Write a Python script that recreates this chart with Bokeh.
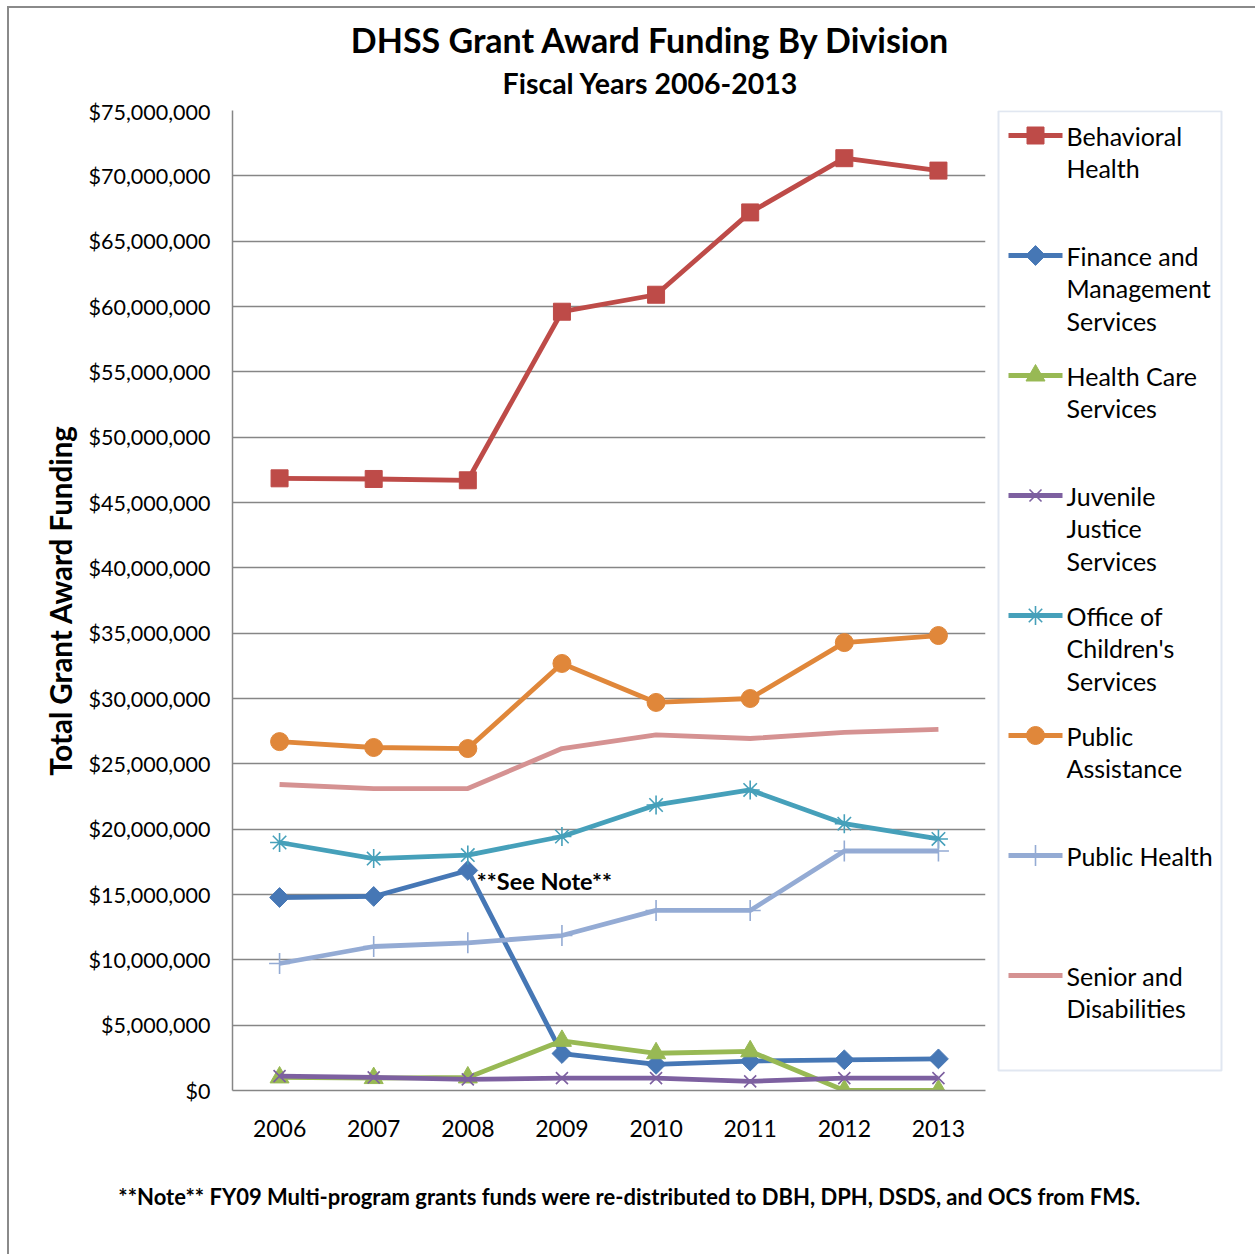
from bokeh.plotting import figure
from bokeh.layouts import column, row
from bokeh.models import (Range1d, FixedTicker, SingleIntervalTicker, NumeralTickFormatter,
                          Label, BoxAnnotation)
from bokeh.core.properties import value
from bokeh.embed import file_html
from bokeh.resources import INLINE
import math

# ---- data -------------------------------------------------------------
years = [2006, 2007, 2008, 2009, 2010, 2011, 2012, 2013]

behavioral_health = [46.85e6, 46.80e6, 46.70e6, 59.60e6, 60.90e6, 67.20e6, 71.35e6, 70.40e6]
finance_mgmt = [14.77e6, 14.85e6, 16.84e6, 2.83e6, 2.00e6, 2.25e6, 2.35e6, 2.42e6]
health_care = [1.00e6, 0.95e6, 1.00e6, 3.80e6, 2.85e6, 3.00e6, 0.0, 0.0]
juvenile_justice = [1.10e6, 1.00e6, 0.85e6, 0.95e6, 0.95e6, 0.70e6, 0.95e6, 0.95e6]
childrens_services = [18.98e6, 17.75e6, 18.02e6, 19.44e6, 21.85e6, 23.00e6, 20.42e6, 19.25e6]
public_assistance = [26.70e6, 26.25e6, 26.17e6, 32.68e6, 29.70e6, 30.00e6, 34.28e6, 34.82e6]
public_health = [9.72e6, 11.02e6, 11.30e6, 11.86e6, 13.78e6, 13.78e6, 18.33e6, 18.33e6]
senior_disabilities = [23.42e6, 23.11e6, 23.11e6, 26.17e6, 27.22e6, 26.94e6, 27.40e6, 27.63e6]

title_text = "DHSS Grant Award Funding By Division"
subtitle_text = "Fiscal Years 2006-2013"
note_text = "**Note** FY09 Multi-program grants funds were re-distributed to DBH, DPH, DSDS, and OCS from FMS."
callout_text = "**See Note**"
y_axis_title = "Total Grant Award Funding"

FONT = "Lato"
GRID = "#868686"

# (values, colour, marker, marker size, legend text lines)
series = [
    (behavioral_health, "#BE4B48", "square", 17, ["Behavioral", "Health"]),
    (finance_mgmt, "#4677B5", "diamond", 14, ["Finance and", "Management", "Services"]),
    (health_care, "#98B954", "triangle", 19, ["Health Care", "Services"]),
    (juvenile_justice, "#7D60A0", "x", 17, ["Juvenile", "Justice", "Services"]),
    (childrens_services, "#46A0BA", "asterisk", 19, ["Office of", "Children's", "Services"]),
    (public_assistance, "#E0873A", "circle", 18, ["Public", "Assistance"]),
    (public_health, "#94ABD4", "cross", 21, ["Public Health"]),
    (senior_disabilities, "#D59292", None, 0, ["Senior and", "Disabilities"]),
]


def marker_kw(marker, size, color):
    kw = dict(marker=marker, size=size, line_color=color, fill_color=color)
    if marker == "diamond":
        kw.update(marker="square", angle=math.pi / 4)
    if marker in ("x", "asterisk", "cross"):
        kw.update(line_width=1.6)
    return kw


# ---- page geometry (pixels, top-left origin) ---------------------------
PAGE_W, PAGE_H = 1255, 1254
OX, OY = 9, 8                  # inside the outer chart border
MAIN_TOP, MAIN_BOTTOM = 98, 1145
SPLIT_X = 990                  # main plot | legend
FL, FR, FT, FB = 232, 985, 110, 1090
LINE_W = 4.8


def panel(x0, x1, y0, y1, **kw):
    """A bare figure whose data coordinates equal page pixels."""
    f = figure(width=x1 - x0, height=y1 - y0, output_backend="svg", toolbar_location=None,
               x_range=Range1d(x0, x1), y_range=Range1d(y1, y0),
               background_fill_color="white", border_fill_color="white", **kw)
    f.axis.visible = False
    f.grid.visible = False
    f.outline_line_color = None
    return f


# ---- title band -------------------------------------------------------
top = panel(OX, PAGE_W, OY, MAIN_TOP, min_border=0)
top.text(x=[650], y=[39], text=[title_text], text_align="center", text_baseline="middle",
         text_font=value(FONT), text_font_style="bold", text_font_size="34px", text_color="black")
top.text(x=[650], y=[82], text=[subtitle_text], text_align="center", text_baseline="middle",
         text_font=value(FONT), text_font_style="bold", text_font_size="28.5px", text_color="black")

# ---- main chart -------------------------------------------------------
p = figure(width=SPLIT_X - OX, height=MAIN_BOTTOM - MAIN_TOP,
           output_backend="svg", toolbar_location=None,
           x_range=Range1d(2005.5, 2013.5), y_range=Range1d(0, 75_000_000),
           min_border_left=FL - OX, min_border_right=SPLIT_X - FR,
           min_border_top=FT - MAIN_TOP, min_border_bottom=MAIN_BOTTOM - FB,
           background_fill_color="white", border_fill_color="white")
p.outline_line_color = None
p.xgrid.visible = False
p.ygrid.grid_line_color = GRID
p.ygrid.grid_line_width = 1.3

p.xaxis.ticker = FixedTicker(ticks=years)
p.yaxis.ticker = SingleIntervalTicker(interval=5_000_000, num_minor_ticks=0)
p.yaxis.formatter = NumeralTickFormatter(format="$0,0")
for ax in (p.xaxis, p.yaxis):
    ax.axis_line_color = GRID
    ax.axis_line_width = 1.5
    ax.major_tick_line_color = None
    ax.minor_tick_line_color = None
    ax.major_tick_out = 0
    ax.major_tick_in = 0
    ax.major_label_text_color = "black"
    ax.major_label_text_font = FONT
p.yaxis.major_label_text_font_size = "21.5px"
p.yaxis.major_label_standoff = 22
p.xaxis.major_label_text_font_size = "23px"
p.xaxis.major_label_standoff = 29

p.yaxis.axis_label = y_axis_title
p.yaxis.axis_label_text_font = FONT
p.yaxis.axis_label_text_font_style = "bold"
p.yaxis.axis_label_text_font_size = "29.5px"
p.yaxis.axis_label_text_color = "black"
p.yaxis.axis_label_standoff = 8

for vals, color, marker, msize, _ in series:
    p.line(years, vals, line_color=color, line_width=LINE_W)
    if marker is not None:
        p.scatter(years, vals, **marker_kw(marker, msize, color))

p.add_layout(Label(x=years[2], y=finance_mgmt[2], x_offset=9, y_offset=-11, text=callout_text,
                   text_align="left", text_baseline="middle", text_font=FONT,
                   text_font_style="bold", text_font_size="23.5px", text_color="black"))

# ---- legend panel (frame shares the main plot's vertical extent) --------
leg = figure(width=PAGE_W - SPLIT_X, height=MAIN_BOTTOM - MAIN_TOP,
             output_backend="svg", toolbar_location=None,
             x_range=Range1d(SPLIT_X, PAGE_W), y_range=Range1d(FB, FT),
             min_border_left=0, min_border_right=0,
             min_border_top=FT - MAIN_TOP, min_border_bottom=MAIN_BOTTOM - FB,
             background_fill_color="white", border_fill_color="white")
leg.axis.visible = False
leg.grid.visible = False
leg.outline_line_color = None
leg.add_layout(BoxAnnotation(left=998, right=1221, top=110.8, bottom=1070,
                             fill_alpha=0, line_color="#9CB0D2", line_width=2))
ITEM_Y0, PITCH, LINE_GAP = 135, 120, 32.8
for i, (_, color, marker, msize, lines) in enumerate(series):
    yc = ITEM_Y0 + i * PITCH
    leg.line([1008, 1062], [yc, yc], line_color=color, line_width=LINE_W)
    if marker is not None:
        leg.scatter([1035], [yc], **marker_kw(marker, msize, color))
    leg.text(x=[1066] * len(lines), y=[yc + j * LINE_GAP for j in range(len(lines))],
             text=lines, text_align="left", text_baseline="middle",
             text_font=value(FONT), text_font_size="25px", text_color="black")

# ---- footnote band ----------------------------------------------------
foot = panel(OX, PAGE_W, MAIN_BOTTOM, PAGE_H, min_border=0)
foot.text(x=[629], y=[1196], text=[note_text], text_align="center", text_baseline="middle",
          text_font=value(FONT), text_font_style="bold", text_font_size="22px", text_color="black")

layout = column(top, row(p, leg), foot, margin=(OY - 2, 0, 0, OX - 2),
                styles={"border-top": "2px solid #8A8A8A", "border-left": "2px solid #8A8A8A"})

open("out.html", "w").write(file_html(layout, INLINE))
